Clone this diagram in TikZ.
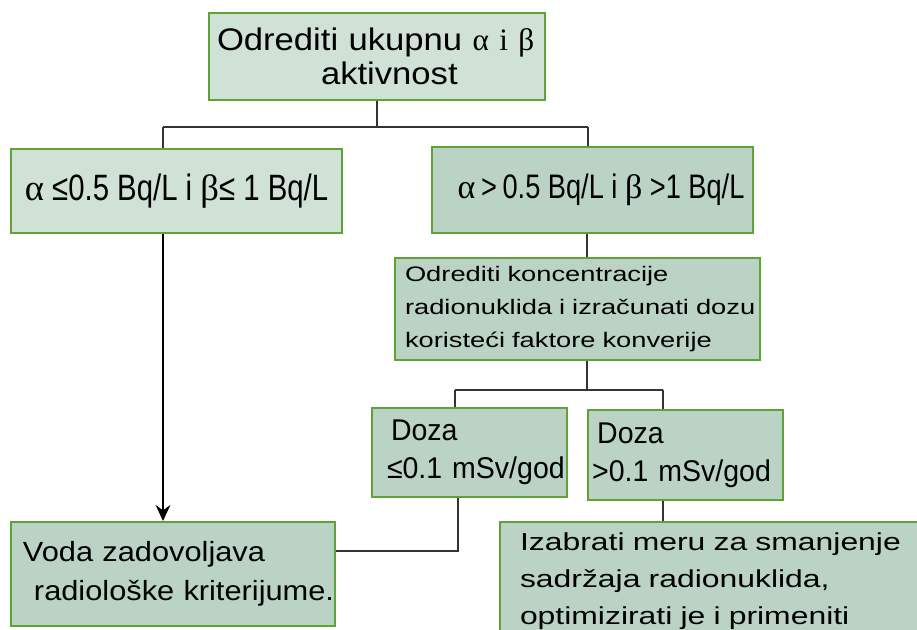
\documentclass[tikz,border=0pt]{standalone}
\usepackage{fontspec}
\setmainfont{Liberation Sans}
\newfontfamily\narrowsans[FakeStretch=0.8]{Liberation Sans}
\newfontfamily\plainsans[FakeStretch=0.95]{Liberation Sans}
\newfontfamily\widesans[FakeStretch=1.11]{Liberation Sans}
\newfontfamily\widersans[FakeStretch=1.3]{Liberation Sans}
\newfontfamily\greekserif{Liberation Serif}
\newcommand{\alfa}{{\greekserif α}}
\newcommand{\bet}{{\greekserif β}}
\usetikzlibrary{arrows.meta}
\definecolor{boxgreen}{HTML}{5FA336}
\definecolor{lightfill}{HTML}{D0E1D6}
\definecolor{darkfill}{HTML}{BAD3C4}
\definecolor{linegray}{HTML}{333333}

\begin{document}
\begin{tikzpicture}[x=0.75pt, y=-0.75pt,
  box/.style={rectangle, draw=boxgreen, line width=1.5pt, inner sep=0pt},
  lightbox/.style={box, fill=lightfill},
  darkbox/.style={box, fill=darkfill},
  link/.style={draw=linegray, line width=1.1pt},
  arr/.style={link, draw=black, -{Stealth[length=12pt, width=11pt, inset=4pt]}}
]
  \clip (0,0) rectangle (917,629);

  \node[lightbox, minimum width=252pt, minimum height=65.25pt, text width=240pt,
    align=left, font=\widesans\fontsize{23.4}{25}\selectfont] (total) at (377,56.5)
    {Odrediti ukupnu {\greekserif α i β}\\\hspace*{78pt}aktivnost};
  \node[lightbox, minimum width=248.25pt, minimum height=63pt,
    font=\narrowsans\fontsize{27.5}{30}\selectfont] (lowcond) at (176.5,191)
    {\alfa\ ≤0.5 Bq/L i \bet≤ 1 Bq/L};
  \node[darkbox, minimum width=240.75pt, minimum height=64.5pt,
    font=\narrowsans\fontsize{25.5}{28}\selectfont] (highcond) at (592.5,190)
    {\hspace*{12.75pt}\alfa\,>\,0.5 Bq/L i \bet\ >1 Bq/L};
  \node[darkbox, minimum width=273.75pt, minimum height=76.5pt, text width=273.75pt,
    align=left, font=\widersans\fontsize{15.75}{24.75}\selectfont] (conc) at (577.5,309)
    {\hspace*{7.5pt}Odrediti koncentracije\\\hspace*{7.5pt}radionuklida i izračunati dozu\\
     \hspace*{7.5pt}koristeći faktore konverije};
  \node[darkbox, minimum width=146.25pt, minimum height=66.75pt, text width=146.25pt,
    align=left, font=\plainsans\fontsize{22.5}{28.5}\selectfont] (lowdose) at (469.5,452.5)
    {\hspace*{14.25pt}Doza\\\hspace*{11.25pt}≤0.1 mSv/god};
  \node[darkbox, minimum width=146.25pt, minimum height=67.5pt, text width=140pt,
    align=left, font=\plainsans\fontsize{22.5}{28.5}\selectfont] (highdose) at (685.5,455)
    {\hspace*{3.75pt}Doza\\>0.1 mSv/god};
  \node[darkbox, minimum width=243pt, minimum height=78pt, text width=243pt,
    align=left, font=\widesans\fontsize{20.8}{29}\selectfont] (safe) at (173,574)
    {\hspace*{9pt}Voda zadovoljava\\\hspace*{17.25pt}radiološke kriterijume.};
  \node[darkbox, minimum width=330pt, minimum height=88.5pt, text width=300pt,
    align=left, font=\widersans\fontsize{18.4}{28}\selectfont] (measure) at (720,581)
    {Izabrati meru za smanjenje\\sadržaja radionuklida,\\optimizirati je i primeniti};

  \coordinate (fork) at (377,127);
  \coordinate (lowjoin) at (163,127);
  \coordinate (highjoin) at (588,127);
  \coordinate (trunk) at (587,390);
  \coordinate (lowdosejoin) at (455,390);
  \coordinate (highdosejoin) at (663,390);
  \coordinate (back) at (458,551);

  \draw[link] (total) -- (fork);
  \draw[link] (lowjoin) -- (highjoin);
  \draw[link] (lowjoin) -- (lowjoin |- lowcond.north);
  \draw[link] (highjoin) -- (highjoin |- highcond.north);
  \draw[link] (trunk |- highcond.south) -- (trunk |- conc.north);
  \draw[link] (trunk |- conc.south) -- (trunk);
  \draw[link] (lowdosejoin) -- (highdosejoin);
  \draw[link] (lowdosejoin) -- (lowdosejoin |- lowdose.north);
  \draw[link] (highdosejoin) -- (highdosejoin |- highdose.north);
  \draw[link] (back |- lowdose.south) -- (back) -- (back -| safe.east);
  \draw[link] (highdosejoin |- highdose.south) -- (highdosejoin |- measure.north);
  \draw[arr] (lowjoin |- lowcond.south) -- (lowjoin |- safe.north);
\end{tikzpicture}
\end{document}
